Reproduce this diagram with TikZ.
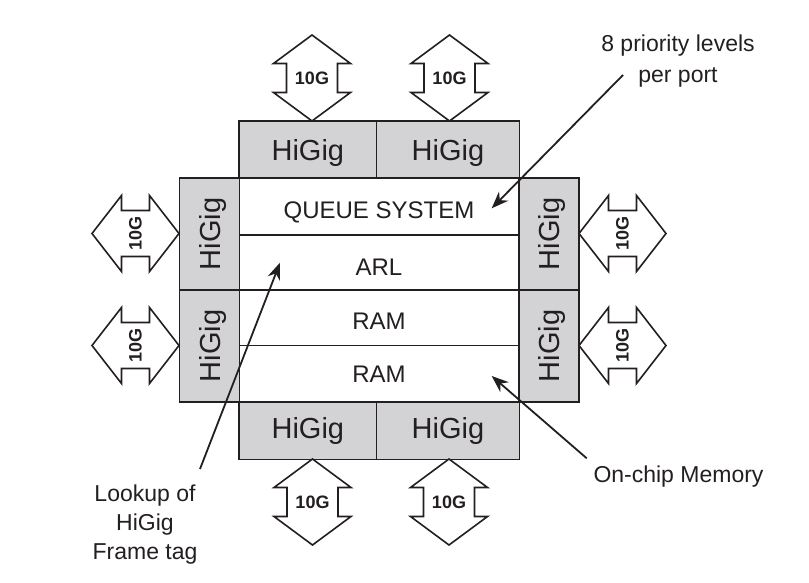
\documentclass[tikz,border=0pt]{standalone}
\usepackage{fontspec}
\setmainfont{Liberation Sans}
\usetikzlibrary{arrows.meta}
\definecolor{boxgray}{RGB}{211,211,213}
\definecolor{ink}{RGB}{35,31,32}
\begin{document}
\begin{tikzpicture}[x=1pt,y=-1pt,
  hg/.style={draw=ink, line width=1.2pt, fill=boxgray, inner sep=0pt, text depth=0pt,
             font=\fontsize{29}{30}\selectfont, text=ink},
  row/.style={draw=ink, line width=1.2pt, fill=white, minimum width=280pt, inner sep=0pt,
              text depth=0pt, font=\fontsize{24}{26}\selectfont, text=ink},
  note/.style={align=center, font=\fontsize{23}{29}\selectfont, text=ink, inner sep=0pt},
  ptr/.style={draw=ink, line width=1.8pt, -{Stealth[length=17pt,width=13pt]}},
  dblline/.style={draw=ink, line width=1.6pt, fill=white, line join=miter},
  tenlbl/.style={font=\fontsize{18}{18}\selectfont\bfseries, text=ink, inner sep=0pt},
  vdbl/.pic={\path[dblline] (0,-43) -- (38.5,-14.5) -- (25.5,-14.5) -- (25.5,14.5) -- (38.5,14.5)
        -- (0,43) -- (-38.5,14.5) -- (-25.5,14.5) -- (-25.5,-14.5) -- (-38.5,-14.5) -- cycle;
        \node[tenlbl] (-lbl) at (0,0) {10G};},
  hdbl/.pic={\path[dblline] (-43.5,0) -- (-14,-38) -- (-14,-23) -- (14,-23) -- (14,-38)
        -- (43.5,0) -- (14,38) -- (14,23) -- (-14,23) -- (-14,38) -- cycle;
        \node[tenlbl, rotate=90] (-lbl) at (0,0) {10G};}
]
\path[use as bounding box, fill=white] (0,0) rectangle (809,583);

% central rows
\node[row, minimum height=57pt, text height=24pt] (queue) at (379,206.5) {QUEUE SYSTEM};
\node[row, minimum height=55pt, text height=25pt] (arl) at (379,262.5) {ARL};
\node[row, minimum height=55.5pt, text height=23.5pt] (ram1) at (379,317.75) {RAM};
\node[row, minimum height=56.5pt] (ram2) at (379,373.75) {RAM};

% HiGig boxes
\node[hg, minimum width=137.7pt, minimum height=57pt] (hgT1) at (307.85,149.5) {HiGig};
\node[hg, minimum width=142.6pt, minimum height=57pt] (hgT2) at (448,149.5) {HiGig};
\node[hg, minimum width=137.7pt, minimum height=57pt, text depth=6pt] (hgB1) at (307.85,430.8) {HiGig};
\node[hg, minimum width=142.6pt, minimum height=57pt, text depth=6pt] (hgB2) at (448,430.8) {HiGig};
\node[hg, rotate=90, minimum width=112pt, minimum height=59.5pt] (hgL1) at (209.5,234) {HiGig};
\node[hg, rotate=90, minimum width=112pt, minimum height=59.5pt] (hgL2) at (209.5,346) {HiGig};
\node[hg, rotate=90, minimum width=112pt, minimum height=59.5pt] (hgR1) at (549.2,234) {HiGig};
\node[hg, rotate=90, minimum width=112pt, minimum height=59.5pt] (hgR2) at (549.2,346) {HiGig};

% 10G double arrows
\pic (aT1) at (312,78) {vdbl};
\pic (aT2) at (449.5,78) {vdbl};
\pic (aB1) at (312.5,502) {vdbl};
\pic (aB2) at (449,502) {vdbl};
\pic (aL1) at (135.5,233.5) {hdbl};
\pic (aL2) at (135.5,345.5) {hdbl};
\pic (aR1) at (622.5,233.5) {hdbl};
\pic (aR2) at (622.5,345.5) {hdbl};

% annotations
\node[note, font=\fontsize{23}{31.5}\selectfont] (prio) at (678,61) {8 priority levels\\per port};
\node[note] (lookup) at (145,525) {Lookup of\\HiGig\\Frame tag};
\node[note] (mem) at (678.5,476.7) {On-chip Memory};

\coordinate (prioS) at (623,75);
\coordinate (prioE) at (491.7,208.3);
\coordinate (lookS) at (200,469);
\coordinate (lookE) at (280,262.7);
\coordinate (memS) at (586.7,458.3);
\coordinate (memE) at (491.7,376);

\draw[ptr] (prioS) -- (prioE);
\draw[ptr] (lookS) -- (lookE);
\draw[ptr] (memS) -- (memE);
\end{tikzpicture}
\end{document}
